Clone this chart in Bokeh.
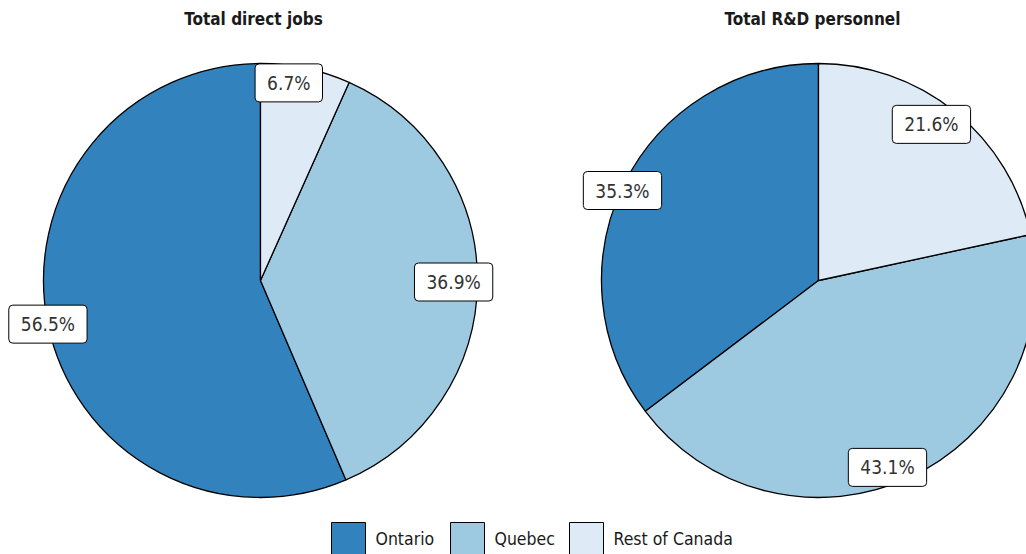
import numpy as np
from bokeh.plotting import figure
from bokeh.models import Range1d, Label, ColumnDataSource
from bokeh.core.properties import value
from bokeh.embed import file_html
from bokeh.resources import INLINE

# ---- data ----
categories = ["Ontario", "Quebec", "Rest of Canada"]
titles = ["Total direct jobs", "Total R&D personnel"]
direct_jobs = [56.5, 36.9, 6.7]
rd_personnel = [35.3, 43.1, 21.6]

# ---- style ----
colors = ["#3182bd", "#9ecae1", "#deebf7"]
FONT = "'DejaVu Sans Condensed', 'Roboto Condensed', Roboto, sans-serif"
W, H = 1026, 554


def sy(y):
    return H - y


p = figure(width=W, height=H, x_range=Range1d(0, W), y_range=Range1d(0, H),
           output_backend="svg", toolbar_location=None,
           x_axis_type=None, y_axis_type=None, min_border=0)
p.grid.visible = False
p.outline_line_color = None
p.background_fill_color = "white"
p.border_fill_color = "white"

centers = [(260, sy(280)), (818, sy(280))]
R = 217
title_x = [253, 812]
label_r = [[1.0, 0.89, 0.92], [0.994, 0.918, 0.888]]
label_nudge = [[0, 0.0, 3.9], [1.8, -4.4, 3.0]]

for k, vals in enumerate([direct_jobs, rd_personnel]):
    v = np.array(vals, dtype=float)
    frac = v / v.sum()
    ends = np.pi / 2 + 2 * np.pi * np.cumsum(frac)
    starts = ends - 2 * np.pi * frac
    cx, cy = centers[k]
    src = ColumnDataSource(dict(start=starts, end=ends, color=colors, cat=categories))
    p.wedge(x=cx, y=cy, radius=R, start_angle="start", end_angle="end",
            fill_color="color", line_color="black", line_width=1.3, source=src)
    mids = (starts + ends) / 2
    for i in range(len(v)):
        a = mids[i] + np.deg2rad(label_nudge[k][i])
        rr = R * label_r[k][i]
        lab = Label(x=cx + rr * np.cos(a), y=cy + rr * np.sin(a),
                    text=f"{vals[i]:.1f}%", text_align="center", text_baseline="middle",
                    text_font=FONT, text_font_size="19px", text_color="#333333",
                    background_fill_color="white", border_line_color="black",
                    border_line_width=1, padding=(12, 8), border_radius=4)
        p.add_layout(lab)
    p.add_layout(Label(x=title_x[k], y=sy(18.5), text=titles[k], text_align="center",
                       text_baseline="middle", text_font=FONT, text_font_size="17px",
                       text_font_style="bold", text_color="#1a1a1a"))

# legend
idx = np.arange(len(categories))
p.rect(x=348 + idx * 119, y=sy(539), width=34, height=34, fill_color=colors,
       line_color="black", line_width=1)
p.text(x=375 + idx * 119, y=sy(538), text=categories, text_align="left",
       text_baseline="middle", text_font=value(FONT), text_font_size="17.5px",
       text_color="#1a1a1a")

open("out.html", "w").write(file_html(p, INLINE))
